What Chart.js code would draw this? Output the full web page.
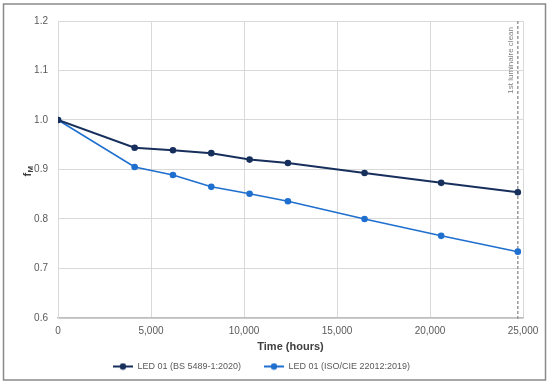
<!DOCTYPE html>
<html>
<head>
<meta charset="utf-8">
<script src="https://cdn.jsdelivr.net/npm/chart.js@4"></script>
<style>
  html, body { margin: 0; padding: 0; background: #fff; }
  #wrap { width: 550px; height: 386px; position: relative; }
</style>
</head>
<body>
<div id="wrap"><canvas id="chart" width="550" height="386"></canvas></div>
<script>
// hours of operation
const hours = [0, 4120, 6180, 8240, 10300, 12360, 16480, 20600, 24720];
const bsValues = [1.0, 0.944, 0.939, 0.933, 0.920, 0.913, 0.893, 0.873, 0.854];
const isoValues = [1.0, 0.905, 0.889, 0.865, 0.851, 0.836, 0.800, 0.766, 0.734];
const seriesNames = ["LED 01 (BS 5489-1:2020)", "LED 01 (ISO/CIE 22012:2019)"];
const xTicks = [0, 5000, 10000, 15000, 20000, 25000];
const yTicks = [0.6, 0.7, 0.8, 0.9, 1.0, 1.1, 1.2];
const cleanAt = 24720;
const cleanLabel = "1st luminaire clean";

const darkBlue = "#172f5c";
const brightBlue = "#1f6fcf";
const fontFamily = "'Liberation Sans', Arial, sans-serif";

const toPoints = (vals) => hours.map((h, i) => ({ x: h, y: vals[i] }));

// little "line with a dot" legend marker like in Excel
const legendMarker = (color) => {
  const c = document.createElement("canvas");
  c.width = 20;
  c.height = 8;
  const g = c.getContext("2d");
  g.strokeStyle = color;
  g.lineWidth = 2;
  g.beginPath();
  g.moveTo(0, 4);
  g.lineTo(20, 4);
  g.stroke();
  g.fillStyle = color;
  g.beginPath();
  g.arc(10, 4, 3.2, 0, Math.PI * 2);
  g.fill();
  return c;
};

const frame = {
  id: "frame",
  beforeDraw(chart) {
    const ctx = chart.ctx;
    ctx.save();
    ctx.strokeStyle = "#8a8a8a";
    ctx.lineWidth = 1.5;
    ctx.strokeRect(3.5, 4, 542, 376);
    ctx.restore();
  },
};

const cleanLine = {
  id: "cleanLine",
  beforeDatasetsDraw(chart) {
    const { ctx, chartArea, scales } = chart;
    const x = scales.x.getPixelForValue(cleanAt);
    ctx.save();
    ctx.strokeStyle = "#9a9a9a";
    ctx.lineWidth = 1.5;
    ctx.setLineDash([3, 2]);
    ctx.beginPath();
    ctx.moveTo(x, chartArea.top);
    ctx.lineTo(x, chartArea.bottom + 3);
    ctx.stroke();
    ctx.setLineDash([]);
    ctx.translate(x - 7, chartArea.top + 6);
    ctx.rotate(-Math.PI / 2);
    ctx.fillStyle = "#7f7f7f";
    ctx.font = "8px " + fontFamily;
    ctx.textAlign = "right";
    ctx.textBaseline = "middle";
    ctx.fillText(cleanLabel, 0, 0);
    ctx.restore();
  },
};

// y title "f" with subscript "M"
const yTitle = {
  id: "yTitle",
  afterDraw(chart) {
    const { ctx, chartArea } = chart;
    const cy = chartArea.top + (chartArea.bottom - chartArea.top) * 0.5;
    ctx.save();
    ctx.translate(27, cy + 2);
    ctx.rotate(-Math.PI / 2);
    ctx.fillStyle = "#404040";
    ctx.textBaseline = "alphabetic";
    ctx.font = "bold 11px " + fontFamily;
    ctx.fillText("f", -5, 4);
    ctx.font = "bold 8px " + fontFamily;
    ctx.fillText("M", -1, 6);
    ctx.restore();
  },
};

new Chart(document.getElementById("chart"), {
  type: "line",
  data: {
    datasets: [
      {
        label: seriesNames[0],
        data: toPoints(bsValues),
        borderColor: darkBlue,
        backgroundColor: darkBlue,
        borderWidth: 2,
        pointRadius: 3.3,
        pointBackgroundColor: darkBlue,
        pointBorderWidth: 0,
        tension: 0,
      },
      {
        label: seriesNames[1],
        data: toPoints(isoValues),
        borderColor: brightBlue,
        backgroundColor: brightBlue,
        borderWidth: 1.6,
        pointRadius: 3.3,
        pointBackgroundColor: brightBlue,
        pointBorderWidth: 0,
        tension: 0,
      },
    ],
  },
  options: {
    responsive: false,
    animation: false,
    layout: { padding: { left: 0, right: 27, top: 21, bottom: 5 } },
    plugins: {
      tooltip: { enabled: false },
      legend: {
        position: "bottom",
        labels: {
          usePointStyle: true,
          pointStyleWidth: 20,
          padding: 8,
          color: "#595959",
          font: { family: fontFamily, size: 9 },
          // trailing spaces widen the gap between the two entries
          generateLabels: (chart) =>
            chart.data.datasets.map((ds, i, all) => ({
              text: i < all.length - 1 ? ds.label + "      " : ds.label,
              pointStyle: legendMarker(ds.borderColor),
              fillStyle: ds.borderColor,
              strokeStyle: ds.borderColor,
              lineWidth: 0,
              fontColor: "#595959",
              datasetIndex: i,
              hidden: false,
            })),
        },
      },
    },
    scales: {
      x: {
        type: "linear",
        min: 0,
        max: 25000,
        afterBuildTicks: (s) => {
          s.ticks = xTicks.map((v) => ({ value: v }));
        },
        afterFit: (s) => {
          s.height = 36;
        },
        grid: { color: "#d9d9d9", drawTicks: false },
        border: { color: "#bfbfbf", width: 1.5 },
        ticks: {
          padding: 7,
          color: "#595959",
          font: { family: fontFamily, size: 10 },
          callback: (v) => v.toLocaleString("en-US"),
          maxRotation: 0,
        },
        title: {
          display: true,
          text: "Time (hours)",
          color: "#404040",
          font: { family: fontFamily, size: 11, weight: "bold" },
          padding: { top: 3, bottom: 0 },
        },
      },
      y: {
        min: 0.6,
        max: 1.2,
        afterBuildTicks: (s) => {
          s.ticks = yTicks.map((v) => ({ value: v }));
        },
        afterFit: (s) => {
          s.width = 58;
        },
        grid: { color: "#d9d9d9", drawTicks: false },
        border: { color: "#d9d9d9" },
        ticks: {
          padding: 10,
          color: "#595959",
          font: { family: fontFamily, size: 10 },
          callback: (v) => v.toFixed(1),
        },
      },
    },
  },
  plugins: [frame, cleanLine, yTitle],
});
</script>
</body>
</html>
